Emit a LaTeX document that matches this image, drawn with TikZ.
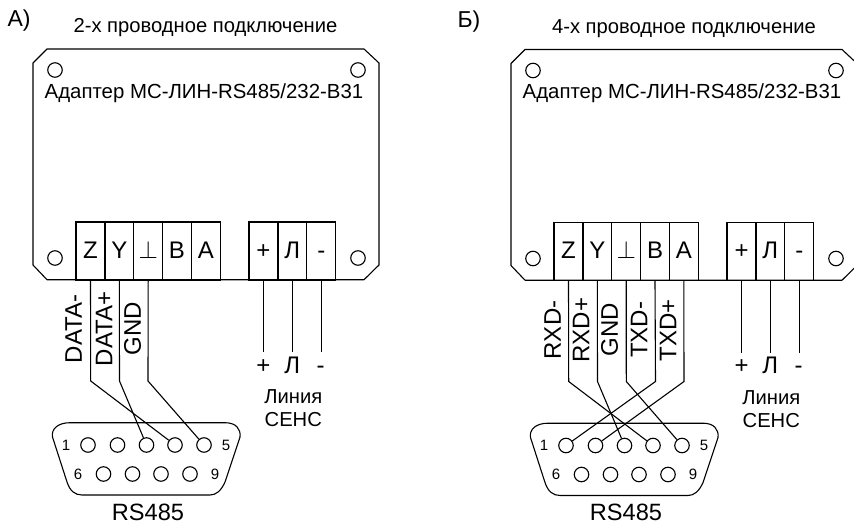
\documentclass[tikz,border=0pt]{standalone}
\usepackage{fontspec}
\setmainfont{Liberation Sans}
\newcommand{\fz}[1]{\fontsize{#1}{#1}\selectfont}
\tikzset{
  term/.style={draw,line width=1.1pt,minimum width=29pt,minimum height=58pt,inner sep=0pt,font=\fz{24},text height=14pt,text depth=0pt},
  hole/.style={draw,circle,line width=1.1pt,minimum size=14.5pt,inner sep=0pt},
  wire/.style={line width=1.1pt},
  body/.style={line width=1.1pt,line join=round},
  txt/.style={inner sep=0pt,font=\fz{20.2}},
  pinnum/.style={inner sep=0pt,font=\fz{15}},
  vlab/.style={inner sep=0pt,rotate=90,font=\fz{24}},
  senslab/.style={inner sep=0pt,font=\fz{24},text height=14pt,text depth=0pt}
}
\newcommand{\panel}[3]{%
\begin{scope}[shift={(#1,#2)}]
  \draw[body] (47,49) -- (364,49) -- (379,63) -- (379,265) -- (364,279.7) -- (47,279.7) -- (33,265) -- (33,63) -- cycle;
  \node[hole] (#3h1) at (55,70) {};
  \node[hole] (#3h2) at (358,70) {};
  \node[hole] (#3h3) at (55,258) {};
  \node[hole] (#3h4) at (358,258) {};
  \node[txt,font=\fz{20.4}] (#3name) at (204,93) {Адаптер МС-ЛИН-RS485/232-В31};
  \node[term] (#3Z) at (90.5,251) {Z};
  \node[term] (#3Y) at (119.3,251) {Y};
  \node[term] (#3G) at (148.2,251) {$\perp$};
  \node[term] (#3B) at (177,251) {В};
  \node[term] (#3A) at (205.8,251) {А};
  \node[term] (#3P) at (263.5,251) {+};
  \node[term] (#3L) at (292.3,251) {Л};
  \node[term] (#3M) at (321.3,251) {-};
  \coordinate (#3pe) at (263.5,352);
  \coordinate (#3le) at (292.3,352);
  \coordinate (#3me) at (321.3,352);
  \draw[wire] (#3P.south) -- (#3pe);
  \draw[wire] (#3L.south) -- (#3le);
  \draw[wire] (#3M.south) -- (#3me);
  \node[senslab] (#3lp) at (263.5,366) {+};
  \node[senslab] (#3ll) at (292.3,366) {Л};
  \node[senslab] (#3lm) at (320.5,366) {-};
  \node[txt] (#3lin) at (293.3,397) {Линия};
  \node[txt] (#3sen) at (293.3,420) {СЕНС};
  \draw[body] (70,422.7) -- (225,422.7) .. controls (236,422.7) and (241,429) .. (240,437) -- (225,482) .. controls (221,491) and (216,495) .. (210,495) -- (82,495) .. controls (75,495) and (70,491) .. (67,482) -- (52.5,437) .. controls (51,429) and (58,422.7) .. (70,422.7) -- cycle;
  \node[hole] (#3p1) at (88,445) {};
  \node[hole] (#3p2) at (117.5,445) {};
  \node[hole] (#3p3) at (146.5,445) {};
  \node[hole] (#3p4) at (175,445) {};
  \node[hole] (#3p5) at (204,445) {};
  \node[hole] (#3p6) at (103.5,474) {};
  \node[hole] (#3p7) at (132.5,474) {};
  \node[hole] (#3p8) at (161,474) {};
  \node[hole] (#3p9) at (190,474) {};
  \node[pinnum] (#3n1) at (66,445) {1};
  \node[pinnum] (#3n5) at (226,445) {5};
  \node[pinnum] (#3n6) at (78,474) {6};
  \node[pinnum] (#3n9) at (215,474) {9};
  \node[inner sep=0pt,font=\fz{23.6}] (#3rs) at (148,512) {RS485};
\end{scope}}
\begin{document}
\begin{tikzpicture}[x=1pt,y=-1pt]
\useasboundingbox (0,0) rectangle (854,524);
\panel{0}{0}{a}
\panel{478}{0.5}{b}
\node[inner sep=0pt,font=\fz{23}] (la) at (19,21) {А)};
\node[inner sep=0pt,font=\fz{23}] (lb) at (469,22) {Б)};
\node[txt] (ta) at (205.5,28) {2-х проводное подключение};
\node[txt] (tb) at (684,29) {4-х проводное подключение};
% panel A wires
\coordinate (abz) at (90.7,381);
\coordinate (aby) at (119.5,381);
\coordinate (abg) at (148,381);
\draw[wire] (aZ.south) -- (abz) -- (ap4);
\draw[wire] (aY.south) -- (aby) -- (ap3);
\draw[wire] (aG.south) -- (abg) -- (ap5);
\node[vlab] (a1) at (73.5,329) {DATA-};
\node[vlab] (a2) at (104,329) {DATA+};
\node[vlab] (a3) at (132.5,329) {GND};
% panel B wires
\coordinate (bbz) at (568.7,381.5);
\coordinate (bby) at (597.5,381.5);
\coordinate (bbg) at (626.3,381.5);
\coordinate (bbb) at (655.5,381.5);
\coordinate (bba) at (684,381.5);
\draw[wire] (bZ.south) -- (bbz) -- (bp4);
\draw[wire] (bY.south) -- (bby) -- (bp3);
\draw[wire] (bG.south) -- (bbg) -- (bp5);
\draw[wire] (bB.south) -- (bbb) -- (bp1);
\draw[wire] (bA.south) -- (bba) -- (bp2);
\node[vlab] (b1) at (552.5,330) {RXD-};
\node[vlab] (b2) at (581,330) {RXD+};
\node[vlab] (b3) at (609.5,330) {GND};
\node[vlab] (b4) at (639,330) {TXD-};
\node[vlab] (b5) at (668,330) {TXD+};
\end{tikzpicture}
\end{document}
